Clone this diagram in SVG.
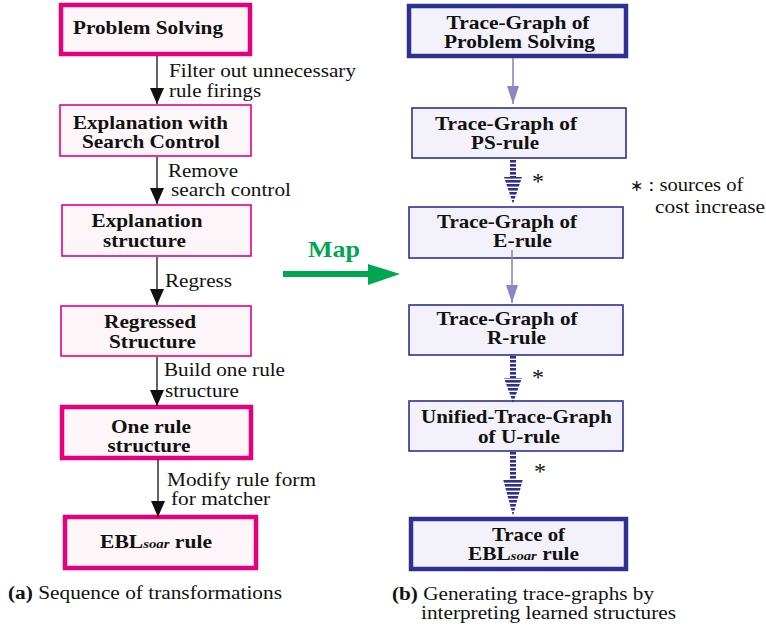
<svg xmlns="http://www.w3.org/2000/svg" width="766" height="628" viewBox="0 0 766 628" font-family="'Liberation Serif', 'DejaVu Serif', serif">
  <defs>
    <style>
      text { font-family: 'Liberation Serif', 'DejaVu Serif', serif; fill: #111; }
      .nt { font-size: 19px; font-weight: bold; text-anchor: middle; }
      .lbl { font-size: 18.5px; }
      .sub { font-size: 13px; font-style: italic; font-weight: bold; }
      .pk { fill: #fdf6f9; stroke: #e6007e; }
      .pk-thin { stroke-width: 1.6; }
      .pk-thick { stroke-width: 4.5; }
      .bl { fill: #f3f2fa; stroke: #2e3192; }
      .bl-thin { stroke-width: 1.6; }
      .bl-thick { stroke-width: 4.5; }
      .edge { stroke: #111; stroke-width: 1.3; fill: none; }
      .edge-lt { stroke: #8a87c6; stroke-width: 1.6; fill: none; }
      .star { font-size: 24px; }
    </style>
    <marker id="ah" markerUnits="userSpaceOnUse" markerWidth="16" markerHeight="14" viewBox="0 0 16 14" refX="16" refY="7" orient="auto">
      <path d="M0,0 L16,7 L0,14 Z" fill="#111"/>
    </marker>
    <marker id="ah-lt" markerUnits="userSpaceOnUse" markerWidth="18" markerHeight="12" viewBox="0 0 18 12" refX="18" refY="6" orient="auto">
      <path d="M0,0 L18,6 L0,12 Z" fill="#8a87c6"/>
    </marker>
    <pattern id="stripes" patternUnits="userSpaceOnUse" x="0" y="0" width="40" height="4">
      <rect x="0" y="0" width="40" height="2.6" fill="#2e3192"/>
    </pattern>
  </defs>

  <!-- left column: transformation sequence -->
  <g id="n-problem-solving">
    <rect class="pk pk-thick" x="61" y="5" width="189" height="49"/>
    <text class="nt" x="148" y="34" textLength="150" lengthAdjust="spacingAndGlyphs">Problem Solving</text>
  </g>
  <g id="n-explanation-search">
    <rect class="pk pk-thin" x="60" y="105" width="191" height="51"/>
    <text class="nt" x="150.5" y="129" textLength="155" lengthAdjust="spacingAndGlyphs">Explanation with</text>
    <text class="nt" x="151" y="148" textLength="138" lengthAdjust="spacingAndGlyphs">Search Control</text>
  </g>
  <g id="n-explanation-structure">
    <rect class="pk pk-thin" x="62" y="205" width="189" height="51"/>
    <text class="nt" x="147" y="227" textLength="111" lengthAdjust="spacingAndGlyphs">Explanation</text>
    <text class="nt" x="144.5" y="247" textLength="83" lengthAdjust="spacingAndGlyphs">structure</text>
  </g>
  <g id="n-regressed">
    <rect class="pk pk-thin" x="61" y="306" width="190" height="50"/>
    <text class="nt" x="150" y="328" textLength="92" lengthAdjust="spacingAndGlyphs">Regressed</text>
    <text class="nt" x="152.5" y="348" textLength="87" lengthAdjust="spacingAndGlyphs">Structure</text>
  </g>
  <g id="n-one-rule">
    <rect class="pk pk-thick" x="62" y="407" width="189" height="51"/>
    <text class="nt" x="151" y="433" textLength="80" lengthAdjust="spacingAndGlyphs">One rule</text>
    <text class="nt" x="149" y="452" textLength="83" lengthAdjust="spacingAndGlyphs">structure</text>
  </g>
  <g id="n-ebl-rule">
    <rect class="pk pk-thick" x="65" y="517" width="191" height="51"/>
    <text class="nt" x="156" y="548" textLength="112" lengthAdjust="spacingAndGlyphs">EBL<tspan class="sub">soar</tspan> rule</text>
  </g>

  <!-- right column: trace graphs -->
  <g id="n-tg-problem-solving">
    <rect class="bl bl-thick" x="409" y="6" width="217" height="50"/>
    <text class="nt" x="518" y="29" textLength="143" lengthAdjust="spacingAndGlyphs">Trace-Graph of</text>
    <text class="nt" x="519.5" y="48" textLength="151" lengthAdjust="spacingAndGlyphs">Problem Solving</text>
  </g>
  <g id="n-tg-ps-rule">
    <rect class="bl bl-thin" x="412" y="108" width="214" height="50"/>
    <text class="nt" x="506" y="130" textLength="142" lengthAdjust="spacingAndGlyphs">Trace-Graph of</text>
    <text class="nt" x="505" y="149" textLength="68" lengthAdjust="spacingAndGlyphs">PS-rule</text>
  </g>
  <g id="n-tg-e-rule">
    <rect class="bl bl-thin" x="409" y="207" width="214" height="51"/>
    <text class="nt" x="507" y="228" textLength="140" lengthAdjust="spacingAndGlyphs">Trace-Graph of</text>
    <text class="nt" x="522.5" y="247" textLength="59" lengthAdjust="spacingAndGlyphs">E-rule</text>
  </g>
  <g id="n-tg-r-rule">
    <rect class="bl bl-thin" x="409" y="305" width="214" height="50"/>
    <text class="nt" x="507" y="325" textLength="141" lengthAdjust="spacingAndGlyphs">Trace-Graph of</text>
    <text class="nt" x="516.5" y="344" textLength="59" lengthAdjust="spacingAndGlyphs">R-rule</text>
  </g>
  <g id="n-utg-u-rule">
    <rect class="bl bl-thin" x="409" y="401" width="214" height="50"/>
    <text class="nt" x="516.5" y="423" textLength="191" lengthAdjust="spacingAndGlyphs">Unified-Trace-Graph</text>
    <text class="nt" x="519" y="443" textLength="82" lengthAdjust="spacingAndGlyphs">of U-rule</text>
  </g>
  <g id="n-trace-ebl">
    <rect class="bl bl-thick" x="411" y="519" width="215" height="50"/>
    <text class="nt" x="528.5" y="541" textLength="73" lengthAdjust="spacingAndGlyphs">Trace of</text>
    <text class="nt" x="523.5" y="560" textLength="111" lengthAdjust="spacingAndGlyphs">EBL<tspan class="sub">soar</tspan> rule</text>
  </g>

  <!-- connectors -->
  <g id="connectors">
    <line class="edge" x1="157" y1="56" x2="157" y2="104" marker-end="url(#ah)"/>
    <line class="edge" x1="157" y1="157" x2="157" y2="204" marker-end="url(#ah)"/>
    <line class="edge" x1="157" y1="257" x2="157" y2="305" marker-end="url(#ah)"/>
    <line class="edge" x1="157" y1="357" x2="157" y2="406" marker-end="url(#ah)"/>
    <line class="edge" x1="158" y1="459" x2="158" y2="517" marker-end="url(#ah)"/>

    <line class="edge-lt" x1="513" y1="58" x2="513" y2="104" marker-end="url(#ah-lt)"/>
    <line class="edge-lt" x1="512" y1="250" x2="512" y2="303" marker-end="url(#ah-lt)"/>

    <!-- striped cost-increase arrows -->
    <path d="M510,159 H516 V177 H522 L513,204 L504,177 H510 Z" fill="url(#stripes)"/>
    <path d="M510,356 H516 V378 H522 L513,403 L504,378 H510 Z" fill="url(#stripes)"/>
    <path d="M510,452 H516 V479 H523 L513,516 L503,479 H510 Z" fill="url(#stripes)"/>

    <!-- map arrow -->
    <line x1="283" y1="274" x2="370" y2="274" stroke="#00a651" stroke-width="6"/>
    <path d="M368,264 L400,274 L368,285 Z" fill="#00a651"/>
  </g>

  <!-- connector labels -->
  <g id="labels">
    <text class="lbl" x="169" y="77" textLength="187" lengthAdjust="spacingAndGlyphs">Filter out unnecessary</text>
    <text class="lbl" x="169" y="97" textLength="92" lengthAdjust="spacingAndGlyphs">rule firings</text>
    <text class="lbl" x="168" y="177" textLength="70" lengthAdjust="spacingAndGlyphs">Remove</text>
    <text class="lbl" x="171" y="196" textLength="120" lengthAdjust="spacingAndGlyphs">search control</text>
    <text class="lbl" x="165" y="287" textLength="67" lengthAdjust="spacingAndGlyphs">Regress</text>
    <text class="lbl" x="164" y="376" textLength="121" lengthAdjust="spacingAndGlyphs">Build one rule</text>
    <text class="lbl" x="165" y="397" textLength="74" lengthAdjust="spacingAndGlyphs">structure</text>
    <text class="lbl" x="167" y="486" textLength="149" lengthAdjust="spacingAndGlyphs">Modify rule form</text>
    <text class="lbl" x="171" y="505" textLength="99" lengthAdjust="spacingAndGlyphs">for matcher</text>

    <text x="308" y="257" font-size="23" font-weight="bold" style="fill:#00a651" textLength="52" lengthAdjust="spacingAndGlyphs">Map</text>

    <text class="star" x="532" y="189">*</text>
    <text class="star" x="532" y="385">*</text>
    <text class="star" x="534" y="479">*</text>

    <text class="lbl" x="630" y="191"><tspan font-family="DejaVu Sans" font-size="16">∗</tspan><tspan textLength="100" lengthAdjust="spacingAndGlyphs"> : sources of</tspan></text>
    <text class="lbl" x="655" y="213" textLength="110" lengthAdjust="spacingAndGlyphs">cost increase</text>
  </g>

  <!-- captions -->
  <g id="captions">
    <text class="lbl" x="8" y="599" textLength="274" lengthAdjust="spacingAndGlyphs"><tspan font-weight="bold">(a)</tspan> Sequence of transformations</text>
    <text class="lbl" x="392" y="600" textLength="262" lengthAdjust="spacingAndGlyphs"><tspan font-weight="bold">(b)</tspan> Generating trace-graphs by</text>
    <text class="lbl" x="421" y="619" textLength="255" lengthAdjust="spacingAndGlyphs">interpreting learned structures</text>
  </g>
</svg>
